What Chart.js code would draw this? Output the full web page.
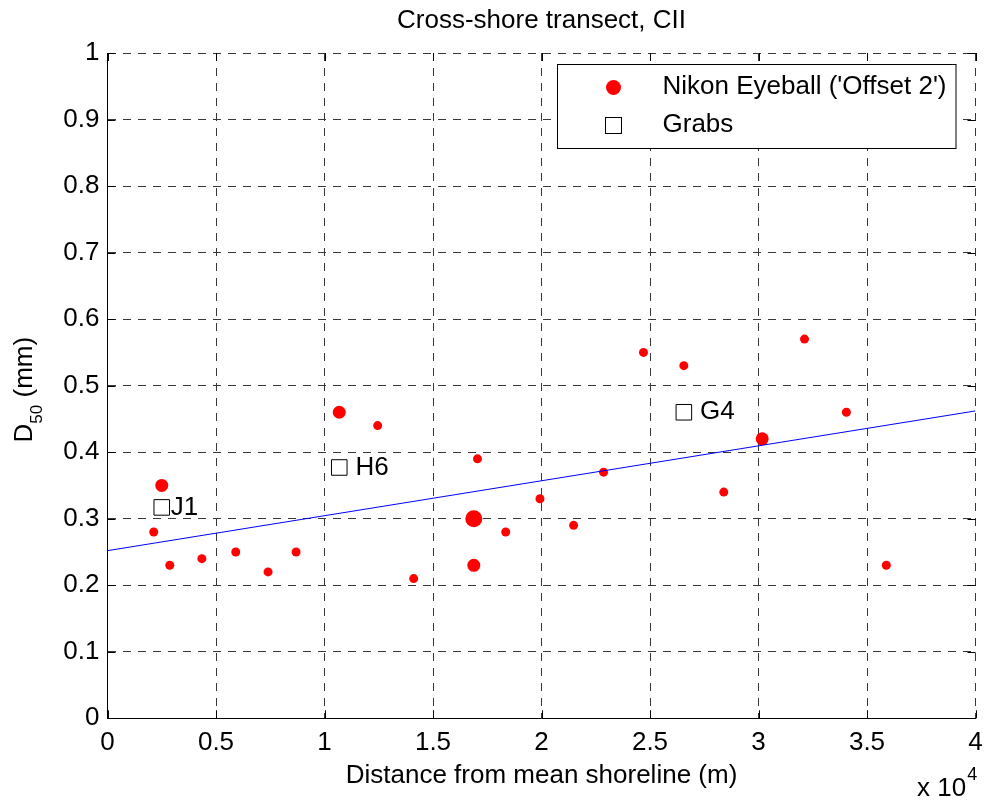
<!DOCTYPE html>
<html>
<head>
<meta charset="utf-8">
<title>Cross-shore transect, CII</title>
<script src="https://cdn.jsdelivr.net/npm/chart.js@4.4.0/dist/chart.umd.min.js"></script>
<style>
  html, body { margin: 0; padding: 0; background: #fff; }
  #wrap { width: 984px; height: 800px; }
</style>
</head>
<body>
<div id="wrap"><canvas id="d50Chart" width="984" height="800"></canvas></div>
<script>
// Nikon eyeball samples: distance from mean shoreline (m) and D50 (mm)
const eyeballDist = [2130, 2500, 2870, 4350, 5910, 7400, 8690, 10680, 12450, 14110,
  16880, 16880, 17050, 18350, 19930, 21480, 22860, 24700, 26560, 28400,
  30170, 32120, 34050, 35890];
const eyeballD50 = [0.28, 0.35, 0.23, 0.24, 0.25, 0.22, 0.25, 0.46, 0.44, 0.21,
  0.30, 0.23, 0.39, 0.28, 0.33, 0.29, 0.37, 0.55, 0.53, 0.34,
  0.42, 0.57, 0.46, 0.23];
// how many samples sit on the same spot (drawn as a bigger dot)
const eyeballCount = [1, 2, 1, 1, 1, 1, 1, 2, 1, 1,
  3, 2, 1, 1, 1, 1, 1, 1, 1, 1,
  2, 1, 1, 1];

// grab samples
const grabDist = [2500, 10680, 26560];
const grabD50 = [0.317, 0.377, 0.46];
const grabNames = ["J1", " H6", " G4"];

// linear trend
const fitDist = [0, 40000];
const fitD50 = [0.252, 0.462];

const xTickLabels = ["0", "0.5", "1", "1.5", "2", "2.5", "3", "3.5", "4"];
const yTickLabels = ["0", "0.1", "0.2", "0.3", "0.4", "0.5", "0.6", "0.7", "0.8", "0.9", "1"];

const FONT = "'Liberation Sans', Arial, Helvetica, sans-serif";
Chart.defaults.font.family = FONT;
Chart.defaults.color = "#000";

const toPoints = (xs, ys) => xs.map((x, i) => ({ x: x, y: ys[i] }));

// MATLAB-ish extras: inward ticks, point labels, legend box, y label with subscript
const matlabExtras = {
  id: "matlabExtras",
  afterDatasetsDraw(chart) {
    const { ctx, chartArea: a, scales: { x, y } } = chart;
    ctx.save();

    // inward tick marks on all four sides
    ctx.strokeStyle = "#000";
    ctx.lineWidth = 1;
    ctx.beginPath();
    x.ticks.forEach(t => {
      const px = Math.round(x.getPixelForValue(t.value)) + 0.5;
      ctx.moveTo(px, a.bottom); ctx.lineTo(px, a.bottom - 8);
      ctx.moveTo(px, a.top); ctx.lineTo(px, a.top + 8);
    });
    y.ticks.forEach(t => {
      const py = Math.round(y.getPixelForValue(t.value)) + 0.5;
      ctx.moveTo(a.left, py); ctx.lineTo(a.left + 8, py);
      ctx.moveTo(a.right, py); ctx.lineTo(a.right - 8, py);
    });
    ctx.stroke();

    // grab labels next to the squares
    ctx.font = "26px " + FONT;
    ctx.fillStyle = "#000";
    ctx.textAlign = "left";
    ctx.textBaseline = "middle";
    grabNames.forEach((name, i) => {
      ctx.fillText(name, x.getPixelForValue(grabDist[i]) + 9, y.getPixelForValue(grabD50[i]));
    });

    // legend box
    ctx.fillStyle = "#fff";
    ctx.fillRect(557.5, 64.5, 398.5, 84);
    ctx.strokeRect(557.5, 64.5, 398.5, 84);
    const eye = chart.data.datasets[2];
    const grab = chart.data.datasets[1];
    ctx.fillStyle = eye.backgroundColor;
    ctx.beginPath();
    ctx.arc(613.5, 87.5, 7.5, 0, Math.PI * 2);
    ctx.fill();
    ctx.strokeStyle = grab.borderColor;
    ctx.strokeRect(605.5, 117.5, 16, 16);
    ctx.fillStyle = "#000";
    ctx.fillText(eye.label, 662.5, 87);
    ctx.fillText(grab.label, 662.5, 125);

    ctx.restore();
  },
  afterDraw(chart) {
    const { ctx, chartArea: a } = chart;
    ctx.save();
    ctx.fillStyle = "#000";

    // title
    ctx.font = "26px " + FONT;
    ctx.textAlign = "center";
    ctx.textBaseline = "middle";
    ctx.fillText("Cross-shore transect, CII", (a.left + a.right) / 2, 21);

    // y axis label "D50 (mm)" with subscript
    ctx.textAlign = "left";
    ctx.textBaseline = "alphabetic";
    const big = "26px " + FONT, small = "17px " + FONT;
    ctx.font = big;
    const wD = ctx.measureText("D").width;
    const wRest = ctx.measureText(" (mm)").width;
    ctx.font = small;
    const wSub = ctx.measureText("50").width;
    const total = wD + wSub + wRest;
    ctx.translate(31.5, (a.top + a.bottom) / 2 + 4);
    ctx.rotate(-Math.PI / 2);
    let cx = -total / 2;
    ctx.font = big;
    ctx.fillText("D", cx, 0);
    cx += wD;
    ctx.font = small;
    ctx.fillText("50", cx, 10);
    cx += wSub;
    ctx.font = big;
    ctx.fillText(" (mm)", cx, 0);
    ctx.setTransform(1, 0, 0, 1, 0, 0);

    // exponent note under the x axis
    ctx.font = big;
    ctx.fillText("x 10", 917, 796);
    const w10 = ctx.measureText("x 10").width;
    ctx.font = "18px " + FONT;
    ctx.fillText("4", 917 + w10 + 1, 780);

    ctx.restore();
  }
};

const gridStyle = { color: "#383838", lineWidth: 1, drawTicks: false };
const borderStyle = { display: true, color: "#000", width: 1, dash: [8, 7] };

new Chart(document.getElementById("d50Chart"), {
  type: "scatter",
  data: {
    datasets: [
      {
        label: "fit",
        type: "line",
        data: toPoints(fitDist, fitD50),
        borderColor: "#0000ff",
        borderWidth: 1,
        pointRadius: 0,
        fill: false,
        order: 0
      },
      {
        label: "Grabs",
        data: toPoints(grabDist, grabD50),
        pointStyle: "rect",
        pointRadius: 11,
        backgroundColor: "rgba(255,255,255,0)",
        borderColor: "#000",
        borderWidth: 1,
        order: 1
      },
      {
        label: "Nikon Eyeball ('Offset 2')",
        data: toPoints(eyeballDist, eyeballD50),
        pointStyle: "circle",
        pointRadius: eyeballCount.map(n => 2.5 + 2 * n),
        backgroundColor: "#ff0000",
        borderColor: "#ff0000",
        borderWidth: 0,
        order: 2
      }
    ]
  },
  options: {
    responsive: false,
    animation: false,
    events: [],
    layout: { autoPadding: false, padding: { top: 53, right: 0, left: 0, bottom: 0 } },
    plugins: {
      legend: { display: false },
      tooltip: { enabled: false },
      title: { display: false }
    },
    scales: {
      x: {
        type: "linear",
        min: 0,
        max: 40000,
        ticks: {
          stepSize: 5000,
          padding: 9,
          maxRotation: 0,
          autoSkip: false,
          font: { size: 26 },
          callback: (v, i) => xTickLabels[i]
        },
        grid: gridStyle,
        border: borderStyle,
        title: {
          display: true,
          text: "Distance from mean shoreline (m)",
          font: { size: 26 },
          padding: { top: 0, bottom: 9 }
        },
        afterFit: s => {
          s.height = 81.7;
          s.paddingLeft = 0;
          s.paddingRight = 8.5;
        }
      },
      y: {
        min: 0,
        max: 1,
        ticks: {
          stepSize: 0.1,
          padding: 8,
          font: { size: 26 },
          callback: (v, i) => yTickLabels[i]
        },
        grid: gridStyle,
        border: borderStyle,
        afterFit: s => { s.width = 107.5; }
      }
    }
  },
  plugins: [matlabExtras]
});
</script>
</body>
</html>
